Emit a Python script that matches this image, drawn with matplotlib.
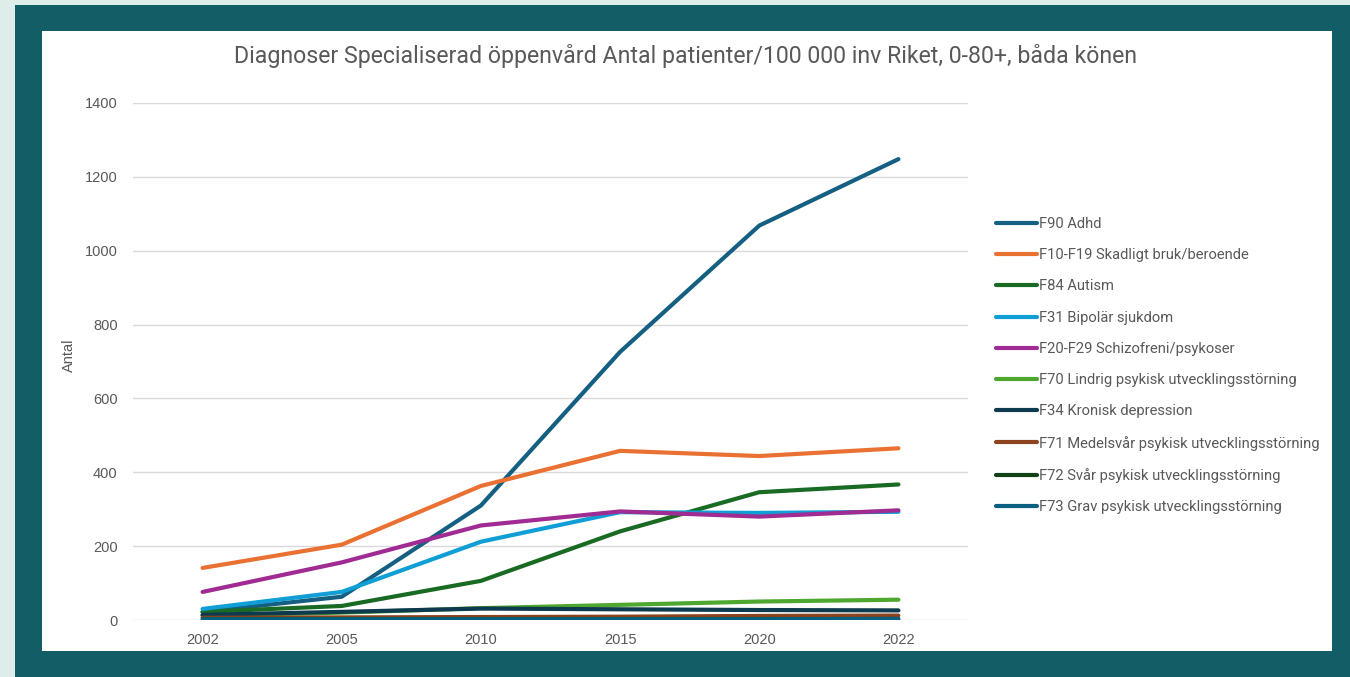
import matplotlib
matplotlib.use('Agg')
import matplotlib.pyplot as plt
from matplotlib.patches import Rectangle
from matplotlib import font_manager

years = ['2002', '2005', '2010', '2015', '2020', '2022']

labels = [
    'F90 Adhd',
    'F10-F19 Skadligt bruk/beroende',
    'F84 Autism',
    'F31 Bipolär sjukdom',
    'F20-F29 Schizofreni/psykoser',
    'F70 Lindrig psykisk utvecklingsstörning',
    'F34 Kronisk depression',
    'F71 Medelsvår psykisk utvecklingsstörning',
    'F72 Svår psykisk utvecklingsstörning',
    'F73 Grav psykisk utvecklingsstörning',
]

f90 = [22, 63, 310, 726, 1068, 1248]
f10_f19 = [141, 204, 363, 458, 444, 465]
f84 = [22, 38, 106, 240, 346, 367]
f31 = [30, 76, 212, 292, 290, 293]
f20_f29 = [76, 156, 256, 294, 280, 297]
f70 = [12, 20, 32, 41, 50, 55]
f34 = [14, 22, 31, 29, 27, 26]
f71 = [6, 7, 8, 9, 11, 12]
f72 = [4, 4, 4, 4, 4, 4]
f73 = [2, 2, 2, 2, 2, 3]

series = [f90, f10_f19, f84, f31, f20_f29, f70, f34, f71, f72, f73]
colors = ['#156082', '#E97132', '#196B24', '#0F9ED5', '#A02B93', '#4EA72E',
          '#0D3A4E', '#8C441E', '#0F4016', '#095F80']

installed = {f.name for f in font_manager.fontManager.ttflist}
narrow = 'Liberation Sans Narrow' if 'Liberation Sans Narrow' in installed else 'Roboto'
plt.rcParams['font.family'] = ['Liberation Sans', 'DejaVu Sans']

text_gray = '#595959'

fig = plt.figure(figsize=(13.5, 6.77), dpi=100)
fig.patch.set_facecolor('#deecea')

# teal frame and white card
fig.add_artist(Rectangle((15 / 1350, 0), 1, 672 / 677, transform=fig.transFigure,
                         facecolor='#135e66', edgecolor='none', zorder=-2))
fig.add_artist(Rectangle((42 / 1350, 26 / 677), 1290 / 1350, 620 / 677,
                         transform=fig.transFigure, facecolor='white',
                         edgecolor='none', zorder=-1))

ax = fig.add_axes([133 / 1350, 57 / 677, 835 / 1350, 517 / 677])
ax.set_facecolor('none')

x = range(len(years))
for vals, lab, col in zip(series, labels, colors):
    ax.plot(x, vals, color=col, linewidth=3, label=lab, solid_capstyle='round',
            solid_joinstyle='round')

ax.set_xlim(-0.5, len(years) - 0.5)
ax.set_ylim(0, 1400)
ax.set_yticks(range(0, 1401, 200))
ax.set_xticks(list(x))
ax.set_xticklabels(years)
ax.grid(axis='y', color='#d9d9d9', linewidth=1)
ax.set_axisbelow(True)
for s in ax.spines.values():
    s.set_visible(False)
ax.tick_params(length=0, labelsize=10.5, labelcolor=text_gray, pad=9)
ax.tick_params(axis='y', pad=11)

fig.text(69 / 1350, 1 - 355 / 677, 'Antal', rotation=90, ha='center', va='center',
         fontsize=10.5, color=text_gray)

fig.text(686 / 1350, 1 - 56 / 677,
         'Diagnoser Specialiserad öppenvård Antal patienter/100 000 inv Riket, 0-80+, båda könen',
         ha='center', va='center', fontsize=16.7, color=text_gray, family=narrow)

leg = ax.legend(loc='upper left', bbox_to_anchor=(996 / 1350, 1 - 217 / 677),
                bbox_transform=fig.transFigure, frameon=False,
                prop={'family': narrow, 'size': 10.6}, labelcolor=text_gray,
                handlelength=2.8, handletextpad=0.1, labelspacing=1.17,
                borderpad=0, borderaxespad=0)

fig.savefig('out.png', dpi=100, facecolor=fig.get_facecolor())
